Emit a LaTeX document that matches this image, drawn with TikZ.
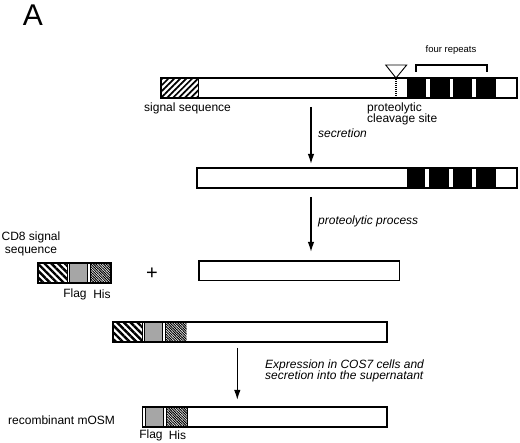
\documentclass[tikz,border=0pt]{standalone}
\usepackage{fontspec}
\setmainfont{Liberation Sans}
\usetikzlibrary{patterns.meta,arrows.meta}
\tikzset{bar/.style={line width=1.6pt}, seg/.style={line width=0.7pt},
  arr/.style={line width=1.4pt,-{Latex[length=10pt,width=6.5pt]}},
  lab/.style={font=\fontsize{12}{11.5}\selectfont, inner sep=0pt},
  note/.style={font=\fontsize{12}{11.5}\selectfont\itshape, inner sep=0pt, align=left}}

\begin{document}
\begin{tikzpicture}[x=1pt,y=-1pt]
   \useasboundingbox (0,0) rectangle (520,443);
   \node[font=\fontsize{30}{30}\selectfont] (panel) at (33,15) {A};

   \fill[pattern={Lines[angle=45,distance=4.2pt,line width=1.7pt]}] (160.7,78) rectangle (198,98);
   \draw[seg] (198,78) -- (198,98);
   \fill[black] (407,78) rectangle (496,98);
   \foreach \x in {428,451.5,474} \fill[white] (\x-1.6,79) rectangle (\x+1.6,97);
   \draw[line width=1.2pt, dash pattern=on 1pt off 1pt] (396,79) -- (396,98);
   \draw[bar] (160.7,78) rectangle (517,98);
   \draw[line width=0.9pt, fill=white] (385.7,65) -- (406.7,65) -- (396,78) -- cycle;
   \draw[line width=1.2pt] (416,72) -- (416,65) -- (487,65) -- (487,72);
   \node[font=\fontsize{9.5}{10}\selectfont, inner sep=0pt] (rep) at (451,50) {four repeats};
   \node[lab, anchor=west] (sig) at (144,108) {signal sequence};
   \node[lab, anchor=north west, align=left] (cleave) at (367,102.5) {proteolytic\\cleavage site};

   \coordinate (a1s) at (311,107);
   \coordinate (a1e) at (311,164);
   \draw[arr] (a1s) -- (a1e);
   \node[note, anchor=west] (sec) at (318,133) {secretion};

   \fill[black] (407,168) rectangle (496,188);
   \foreach \x in {427,451,474} \fill[white] (\x-1.6,169) rectangle (\x+1.6,187);
   \draw[bar] (196.7,168) rectangle (516.7,188);

   \coordinate (a2s) at (311,197);
   \coordinate (a2e) at (311,252);
   \draw[arr] (a2s) -- (a2e);
   \node[note, anchor=west] (proc) at (318,221) {proteolytic process};

   \node[lab, align=center, font=\fontsize{12}{13}\selectfont, anchor=north] (cd8) at (31,231.5) {CD8 signal\\sequence};
   \begin{scope}[shift={(37.7,263)}]
    \fill[pattern={Lines[angle=-45,distance=4.8pt,line width=2.4pt]}] (0,0) rectangle (29.3,20);
    \draw[seg] (29.3,0) -- (29.3,20);
    \filldraw[seg, fill=black!35] (32,0) rectangle (50,20);
    \fill[pattern={Lines[angle=-45,distance=1.8pt,line width=1pt]}] (53,0) rectangle (73.3,20);
    \draw[seg] (53,0) -- (53,20);
    \draw[bar] (0,0) rectangle (73.3,20);
   \end{scope}
   \node[lab] (flag1) at (75,294) {Flag};
   \node[lab] (his1) at (102,294) {His};
   \node[font=\fontsize{20}{20}\selectfont, inner sep=0pt] (plus) at (152,274) {+};
   \draw[bar] (199,261) rectangle (399.3,280.5);

   \begin{scope}[shift={(112.7,322)}]
    \fill[pattern={Lines[angle=-45,distance=4.8pt,line width=2.4pt]}] (0,0) rectangle (29.3,20);
    \draw[seg] (29.3,0) -- (29.3,20);
    \filldraw[seg, fill=black!35] (32,0) rectangle (50,20);
    \fill[pattern={Lines[angle=-45,distance=1.8pt,line width=1pt]}] (53,0) rectangle (74,20);
    \draw[seg] (53,0) -- (53,20);
    \draw[bar] (0,0) rectangle (274,20);
   \end{scope}

   \coordinate (a3s) at (237.3,348);
   \coordinate (a3e) at (237.3,400);
   \draw[arr] (a3s) -- (a3e);
   \node[note, anchor=north west] (expr) at (265,359.5) {Expression in COS7 cells and\\secretion into the supernatant};

   \node[lab, anchor=west] (rec) at (8,420) {recombinant mOSM};
   \begin{scope}[shift={(142.3,407.3)}]
    \filldraw[seg, fill=black!35] (2.7,0) rectangle (21,20);
    \fill[pattern={Lines[angle=-45,distance=1.8pt,line width=1pt]}] (24.4,0) rectangle (45,20);
    \draw[seg] (24.4,0) -- (24.4,20);
    \draw[seg] (45,0) -- (45,20);
    \draw[bar] (0,0) rectangle (244.4,20);
   \end{scope}
   \node[lab] (flag2) at (151,435) {Flag};
   \node[lab] (his2) at (177.5,435) {His};
\end{tikzpicture}
\end{document}
